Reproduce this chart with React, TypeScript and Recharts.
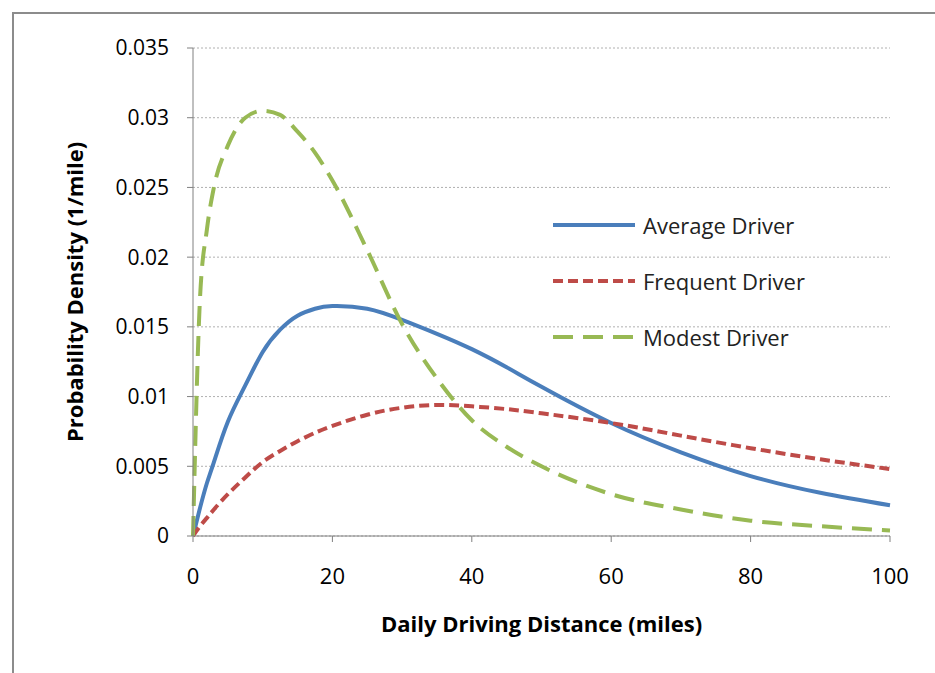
import React from "react";
import { LineChart, Line, XAxis, YAxis, CartesianGrid } from "recharts";

const distances = [0,1,2,3,5,7.5,10,12.5,15,17.5,20,25,30,35,40,45,50,60,70,80,90,100];
const averageDriver = [0,0.002,0.0038,0.0053,0.0082,0.0108,0.0132,0.0148,0.0158,0.0163,0.0165,0.0163,0.0155,0.0145,0.0134,0.0121,0.0107,0.0081,0.006,0.0043,0.0031,0.0022];
const frequentDriver = [0,0.0007,0.0013,0.0019,0.003,0.0042,0.0053,0.0061,0.0068,0.0074,0.0079,0.0087,0.0092,0.0094,0.0093,0.0091,0.0088,0.0081,0.0072,0.0063,0.0055,0.0048];
const modestDriver = [0,0.017,0.022,0.025,0.028,0.03,0.0305,0.0302,0.029,0.0275,0.0255,0.0205,0.0152,0.0113,0.0083,0.0064,0.005,0.003,0.0019,0.0011,0.0007,0.0004];
const xTicks = [0,20,40,60,80,100];
const yTicks = [0,0.005,0.01,0.015,0.02,0.025,0.03,0.035];
const legendItems = [
  { name: "Average Driver", color: "#4a7ebb", dash: "" },
  { name: "Frequent Driver", color: "#be4b48", dash: "10 5" },
  { name: "Modest Driver", color: "#98b954", dash: "20 10" },
];

const data = distances.map((d, i) => ({ d, avg: averageDriver[i], freq: frequentDriver[i], mod: modestDriver[i] }));
const font = "'Open Sans', 'Liberation Sans', sans-serif";

export default function App() {
  return (
    <div style={{ position: "absolute", left: 0, top: 0, width: 935, height: 673, background: "#fff", fontFamily: font }}>
      <div style={{ position: "absolute", left: 12, top: 12, width: 930, height: 670, border: "2px solid #8c8c8c", boxSizing: "border-box" }} />
      <LineChart width={935} height={673} data={data} margin={{ top: 48, right: 45, left: 103, bottom: 57 }}>
        <CartesianGrid vertical={false} stroke="#b0b0b0" strokeDasharray="2 2" />
        <XAxis dataKey="d" type="number" domain={[0, 100]} ticks={xTicks} tick={{ fontSize: 22, fill: "#000", fontFamily: font }} stroke="#808080" tickSize={6} tickMargin={26} height={80}
          label={{ value: "Daily Driving Distance (miles)", position: "insideBottom", offset: -16, style: { fontSize: 22, fontWeight: "bold", fill: "#000", fontFamily: font } }} />
        <YAxis type="number" domain={[0, 0.035]} ticks={yTicks} tick={{ fontSize: 21, fill: "#000", fontFamily: font }} stroke="#808080" tickSize={6} tickMargin={18} width={90}
          label={{ value: "Probability Density (1/mile)", angle: -90, position: "insideLeft", offset: -28, dy: 150, style: { fontSize: 22, fontWeight: "bold", fill: "#000", fontFamily: font } }} />
        <Line type="natural" dataKey="avg" name="Average Driver" stroke="#4a7ebb" strokeWidth={4} dot={false} isAnimationActive={false} />
        <Line type="natural" dataKey="freq" name="Frequent Driver" stroke="#be4b48" strokeWidth={4} strokeDasharray="10 5" dot={false} isAnimationActive={false} />
        <Line type="monotone" dataKey="mod" name="Modest Driver" stroke="#98b954" strokeWidth={4} strokeDasharray="20 10" dot={false} isAnimationActive={false} />
      </LineChart>
      <div style={{ position: "absolute", left: 553, top: 197, fontSize: 22, color: "#222" }}>
        {legendItems.map((it) => (
          <div key={it.name} style={{ display: "flex", alignItems: "center", height: 56 }}>
            <svg width={82} height={10}><line x1={0} y1={5} x2={82} y2={5} stroke={it.color} strokeWidth={4} strokeDasharray={it.dash} /></svg>
            <span style={{ marginLeft: 8 }}>{it.name}</span>
          </div>
        ))}
      </div>
    </div>
  );
}
